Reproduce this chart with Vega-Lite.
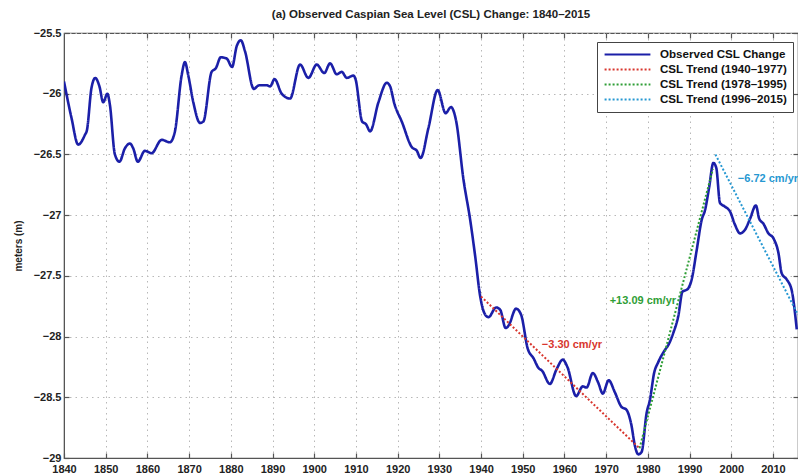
{
  "$schema": "https://vega.github.io/schema/vega-lite/v6.json",
  "autosize": "none",
  "width": 734,
  "height": 425,
  "padding": {"left": 64, "top": 33, "right": 0, "bottom": 17},
  "background": "white",
  "config": {
    "font": "Liberation Sans",
    "view": {"stroke": "#555", "strokeWidth": 1.2},
    "axis": {
      "labelFont": "Liberation Sans", "labelFontWeight": "bold", "labelFontSize": 11, "labelColor": "#222",
      "titleFont": "Liberation Sans", "titleFontWeight": "bold", "titleFontSize": 10, "titleColor": "#222",
      "domainColor": "#555", "tickColor": "#555", "tickSize": -5, "tickWidth": 1.2,
      "gridColor": "#b8b8b8", "gridDash": [1.5, 4], "gridWidth": 1
    }
  },
  "title": {"text": "(a) Observed Caspian Sea Level (CSL) Change: 1840–2015", "fontSize": 11.5, "fontWeight": "bold", "font": "Liberation Sans", "color": "#222", "offset": 7, "anchor": "middle", "frame": "group"},
  "resolve": {"axis": {"x": "independent", "y": "independent"}},
  "datasets": {
    "obs": [
      {"year": 1840.0, "level": -25.90}, {"year": 1841.8, "level": -26.20}, {"year": 1843.4, "level": -26.42},
      {"year": 1845.0, "level": -26.34}, {"year": 1845.5, "level": -26.30}, {"year": 1846.6, "level": -25.95},
      {"year": 1847.5, "level": -25.87}, {"year": 1848.5, "level": -25.94}, {"year": 1849.4, "level": -26.07},
      {"year": 1850.4, "level": -26.00}, {"year": 1851.0, "level": -26.09}, {"year": 1852.2, "level": -26.50},
      {"year": 1853.3, "level": -26.56}, {"year": 1854.6, "level": -26.45}, {"year": 1855.8, "level": -26.41},
      {"year": 1856.6, "level": -26.45}, {"year": 1857.7, "level": -26.56}, {"year": 1859.4, "level": -26.47},
      {"year": 1861.0, "level": -26.49}, {"year": 1863.4, "level": -26.38}, {"year": 1865.4, "level": -26.40},
      {"year": 1866.6, "level": -26.31}, {"year": 1868.2, "level": -25.85}, {"year": 1869.0, "level": -25.74},
      {"year": 1869.8, "level": -25.85}, {"year": 1871.0, "level": -26.07}, {"year": 1872.6, "level": -26.24},
      {"year": 1873.4, "level": -26.23}, {"year": 1875.4, "level": -25.82}, {"year": 1876.4, "level": -25.79},
      {"year": 1877.6, "level": -25.70}, {"year": 1879.0, "level": -25.71}, {"year": 1880.3, "level": -25.78},
      {"year": 1881.4, "level": -25.61}, {"year": 1882.4, "level": -25.56}, {"year": 1883.4, "level": -25.65},
      {"year": 1885.5, "level": -25.96}, {"year": 1886.8, "level": -25.93}, {"year": 1888.6, "level": -25.93},
      {"year": 1889.4, "level": -25.94}, {"year": 1890.5, "level": -25.88}, {"year": 1892.2, "level": -26.00},
      {"year": 1894.2, "level": -26.04}, {"year": 1896.6, "level": -25.76}, {"year": 1898.6, "level": -25.87},
      {"year": 1900.6, "level": -25.76}, {"year": 1902.4, "level": -25.83}, {"year": 1903.8, "level": -25.75},
      {"year": 1905.4, "level": -25.84}, {"year": 1906.6, "level": -25.82}, {"year": 1907.8, "level": -25.87},
      {"year": 1909.4, "level": -25.85}, {"year": 1909.9, "level": -25.88}, {"year": 1911.5, "level": -26.23},
      {"year": 1912.4, "level": -26.25}, {"year": 1913.4, "level": -26.31}, {"year": 1915.4, "level": -26.07},
      {"year": 1917.4, "level": -25.91}, {"year": 1918.2, "level": -25.94}, {"year": 1919.2, "level": -26.08},
      {"year": 1921.0, "level": -26.23}, {"year": 1923.4, "level": -26.44}, {"year": 1924.6, "level": -26.47},
      {"year": 1925.5, "level": -26.53}, {"year": 1927.4, "level": -26.28}, {"year": 1929.6, "level": -25.97},
      {"year": 1931.5, "level": -26.16}, {"year": 1932.8, "level": -26.11}, {"year": 1934.0, "level": -26.22},
      {"year": 1935.8, "level": -26.71}, {"year": 1937.4, "level": -27.04}, {"year": 1938.6, "level": -27.34},
      {"year": 1939.8, "level": -27.67}, {"year": 1941.0, "level": -27.82}, {"year": 1941.8, "level": -27.84},
      {"year": 1943.6, "level": -27.76}, {"year": 1944.6, "level": -27.78}, {"year": 1945.9, "level": -27.93},
      {"year": 1946.6, "level": -27.91}, {"year": 1948.4, "level": -27.77}, {"year": 1949.6, "level": -27.82},
      {"year": 1951.2, "level": -28.10}, {"year": 1952.6, "level": -28.18}, {"year": 1953.8, "level": -28.26},
      {"year": 1954.6, "level": -28.28}, {"year": 1956.5, "level": -28.39}, {"year": 1958.1, "level": -28.27},
      {"year": 1959.6, "level": -28.19}, {"year": 1960.7, "level": -28.25}, {"year": 1962.8, "level": -28.49},
      {"year": 1964.4, "level": -28.41}, {"year": 1965.3, "level": -28.42}, {"year": 1966.8, "level": -28.30},
      {"year": 1968.1, "level": -28.38}, {"year": 1969.2, "level": -28.47}, {"year": 1970.6, "level": -28.36},
      {"year": 1972.1, "level": -28.46}, {"year": 1973.7, "level": -28.58}, {"year": 1974.8, "level": -28.60},
      {"year": 1976.0, "level": -28.72}, {"year": 1976.9, "level": -28.90}, {"year": 1977.7, "level": -28.97},
      {"year": 1978.5, "level": -28.95}, {"year": 1979.7, "level": -28.63}, {"year": 1980.5, "level": -28.52},
      {"year": 1981.5, "level": -28.30}, {"year": 1982.5, "level": -28.21}, {"year": 1984.1, "level": -28.11},
      {"year": 1984.9, "level": -28.07}, {"year": 1986.1, "level": -27.97}, {"year": 1987.3, "level": -27.83},
      {"year": 1988.3, "level": -27.63}, {"year": 1989.5, "level": -27.61}, {"year": 1990.5, "level": -27.53},
      {"year": 1991.7, "level": -27.29}, {"year": 1992.9, "level": -27.04}, {"year": 1993.7, "level": -26.96},
      {"year": 1994.7, "level": -26.77}, {"year": 1995.7, "level": -26.57}, {"year": 1996.4, "level": -26.61},
      {"year": 1997.3, "level": -26.90}, {"year": 1998.5, "level": -26.93}, {"year": 1999.7, "level": -26.97},
      {"year": 2000.9, "level": -27.08}, {"year": 2002.1, "level": -27.15}, {"year": 2003.3, "level": -27.12},
      {"year": 2004.5, "level": -27.03}, {"year": 2005.9, "level": -26.92}, {"year": 2006.7, "level": -27.03},
      {"year": 2007.7, "level": -27.07}, {"year": 2008.9, "level": -27.15}, {"year": 2010.1, "level": -27.19},
      {"year": 2011.3, "level": -27.31}, {"year": 2012.1, "level": -27.48}, {"year": 2013.3, "level": -27.53},
      {"year": 2014.5, "level": -27.62}, {"year": 2015.7, "level": -27.94}
    ],
    "trends": [
      {"year": 1940, "level": -27.67, "series": "CSL Trend (1940–1977)"},
      {"year": 1978, "level": -28.92, "series": "CSL Trend (1940–1977)"},
      {"year": 1978, "level": -28.92, "series": "CSL Trend (1978–1995)"},
      {"year": 1995.6, "level": -26.62, "series": "CSL Trend (1978–1995)"},
      {"year": 1996.2, "level": -26.50, "series": "CSL Trend (1996–2015)"},
      {"year": 2016, "level": -27.82, "series": "CSL Trend (1996–2015)"}
    ],
    "notes": [
      {"year": 1961.8, "level": -28.07, "label": "−3.30 cm/yr", "series": "CSL Trend (1940–1977)"},
      {"year": 1978.8, "level": -27.71, "label": "+13.09 cm/yr", "series": "CSL Trend (1978–1995)"},
      {"year": 2008.8, "level": -26.70, "label": "−6.72 cm/yr", "series": "CSL Trend (1996–2015)"}
    ]
  },
  "layer": [
    {
      "data": {"name": "obs"},
      "transform": [{"calculate": "'Observed CSL Change'", "as": "series"}],
      "mark": {"type": "line", "interpolate": "monotone", "strokeWidth": 2.6, "clip": true},
      "encoding": {
        "x": {"field": "year", "type": "quantitative", "scale": {"domain": [1840, 2016], "nice": false, "zero": false},
              "axis": {"values": [1840,1850,1860,1870,1880,1890,1900,1910,1920,1930,1940,1950,1960,1970,1980,1990,2000,2010], "format": "d", "title": null, "labelPadding": 10, "labelFlush": false}},
        "y": {"field": "level", "type": "quantitative", "scale": {"domain": [-29, -25.5], "nice": false, "zero": false},
              "axis": {"values": [-29,-28.5,-28,-27.5,-27,-26.5,-26,-25.5], "format": "~g", "title": "meters (m)", "labelPadding": 8, "titlePadding": 10}},
        "color": {"field": "series", "type": "nominal",
          "scale": {"domain": ["Observed CSL Change", "CSL Trend (1940–1977)", "CSL Trend (1978–1995)", "CSL Trend (1996–2015)"],
                    "range": ["#1b1fa8", "#d8362e", "#2f9e36", "#2698d2"]},
          "legend": {"title": null, "orient": "none", "legendX": 533, "legendY": 9, "symbolType": "stroke", "symbolSize": 2100, "symbolStrokeWidth": 2.2,
                     "clipHeight": 13, "labelFont": "Liberation Sans", "labelFontWeight": "bold", "labelFontSize": 11.6, "labelColor": "#111",
                     "strokeColor": "#444", "fillColor": "white", "padding": 6, "rowPadding": 2, "labelOffset": 8}},
        "strokeDash": {"field": "series", "type": "nominal",
          "scale": {"domain": ["Observed CSL Change", "CSL Trend (1940–1977)", "CSL Trend (1978–1995)", "CSL Trend (1996–2015)"],
                    "range": [[1, 0], [2, 2], [2, 2], [2, 2]]}}
      }
    },
    {
      "data": {"name": "trends"},
      "mark": {"type": "line", "strokeWidth": 2, "clip": true},
      "encoding": {
        "x": {"field": "year", "type": "quantitative",
              "axis": {"orient": "top", "values": [1850,1860,1870,1880,1890,1900,1910,1920,1930,1940,1950,1960,1970,1980,1990,2000,2010], "labels": false, "grid": false, "domain": false, "title": null}},
        "y": {"field": "level", "type": "quantitative",
              "axis": {"orient": "right", "values": [-29,-28.5,-28,-27.5,-27,-26.5,-26,-25.5], "labels": false, "grid": false, "domain": false, "title": null}},
        "color": {"field": "series", "type": "nominal"},
        "strokeDash": {"field": "series", "type": "nominal"}
      }
    },
    {
      "data": {"name": "notes"},
      "transform": [{"filter": "datum.series === 'CSL Trend (1940–1977)'"}],
      "mark": {"type": "text", "font": "Liberation Sans", "fontWeight": "bold", "fontSize": 11, "color": "#d8362e", "align": "center", "baseline": "middle"},
      "encoding": {"x": {"field": "year", "type": "quantitative", "axis": null}, "y": {"field": "level", "type": "quantitative", "axis": null}, "text": {"field": "label"}}
    },
    {
      "data": {"name": "notes"},
      "transform": [{"filter": "datum.series === 'CSL Trend (1978–1995)'"}],
      "mark": {"type": "text", "font": "Liberation Sans", "fontWeight": "bold", "fontSize": 11, "color": "#2f9e36", "align": "center", "baseline": "middle"},
      "encoding": {"x": {"field": "year", "type": "quantitative", "axis": null}, "y": {"field": "level", "type": "quantitative", "axis": null}, "text": {"field": "label"}}
    },
    {
      "data": {"name": "notes"},
      "transform": [{"filter": "datum.series === 'CSL Trend (1996–2015)'"}],
      "mark": {"type": "text", "font": "Liberation Sans", "fontWeight": "bold", "fontSize": 11, "color": "#2698d2", "align": "center", "baseline": "middle"},
      "encoding": {"x": {"field": "year", "type": "quantitative", "axis": null}, "y": {"field": "level", "type": "quantitative", "axis": null}, "text": {"field": "label"}}
    }
  ]
}
